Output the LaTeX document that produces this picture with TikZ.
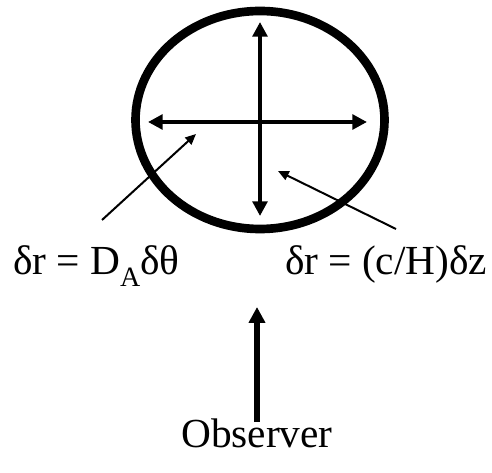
\documentclass[tikz,border=0pt]{standalone}
\usepackage{fontspec}
\setmainfont{Liberation Serif}
\usetikzlibrary{arrows.meta,shapes.geometric}
\begin{document}
\begin{tikzpicture}[
      x=0.75pt, y=-0.75pt,
      every node/.style={inner sep=0pt, outer sep=0pt},
      cell/.style={draw, ellipse, line width=6.5pt, minimum width=249*0.75pt, minimum height=218*0.75pt},
      axis/.style={line width=3pt, {Triangle[length=11pt,width=11pt]}-{Triangle[length=11pt,width=11pt]}},
      pointer/.style={line width=1.5pt, -{Triangle[length=8pt,width=7pt]}},
      sight/.style={line width=4pt, -{Triangle[length=12pt,width=12pt]}},
      lbl/.style={font=\fontsize{31}{36}\selectfont, anchor=base west}
    ]
      \useasboundingbox (0,0) rectangle (492,473);
      % the cell
      \node[cell] (cell) at (260,120) {};
      \coordinate (west) at (148,122);
      \coordinate (east) at (367,122);
      \coordinate (north) at (260,22);
      \coordinate (south) at (260,216);
      \draw[axis] (west) -- (east);
      \draw[axis] (north) -- (south);
      % labels
      \node[lbl] (angle) at (13,275) {δr = D\raisebox{-8.5pt}{\fontsize{21}{24}\selectfont A}δθ};
      \node[lbl] (redshift) at (285,275) {δr = (c/H)δz};
      \coordinate (angletip) at (196,134);
      \coordinate (angletail) at (102,220);
      \coordinate (redtip) at (278,171);
      \coordinate (redtail) at (396,229);
      \draw[pointer] (angletail) -- (angletip);
      \draw[pointer] (redtail) -- (redtip);
      % observer
      \node[font=\fontsize{31}{36}\selectfont, anchor=base] (obs) at (257,447) {Observer};
      \coordinate (eye) at (257,422);
      \coordinate (look) at (257,307);
      \draw[sight] (eye) -- (look);
    \end{tikzpicture}
\end{document}
